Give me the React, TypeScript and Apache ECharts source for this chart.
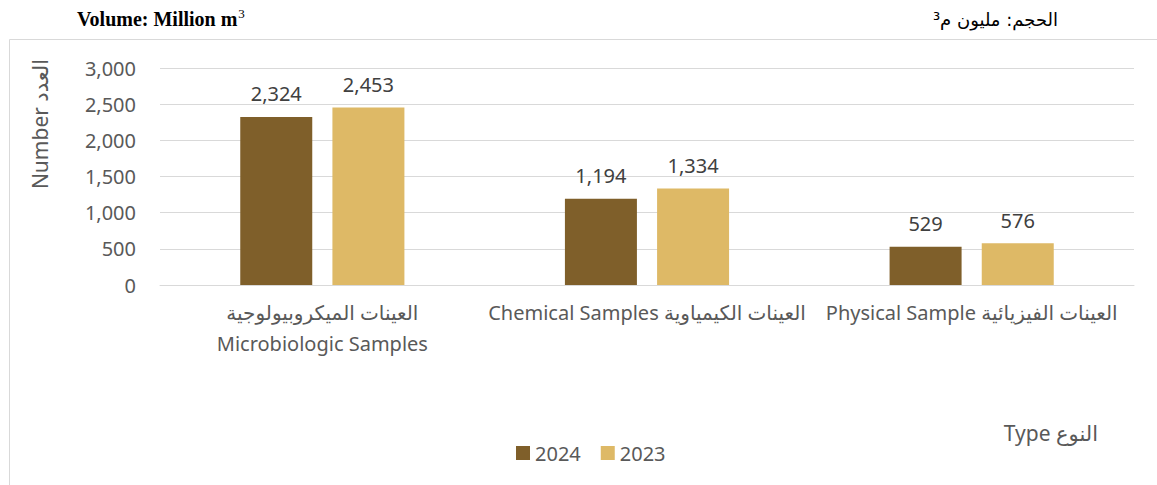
import React, { useEffect, useRef } from "react";
import * as echarts from "echarts";

const categories = [
  "العينات الميكروبيولوجية\nMicrobiologic Samples",
  "Chemical Samples العينات الكيمياوية",
  "Physical Sample العينات الفيزيائية",
];
const seriesNames = ["2024", "2023"];
const values2024 = [2324, 1194, 529];
const values2023 = [2453, 1334, 576];
const colors = ["#7F5F2A", "#DEB966"];
const yTicks = { min: 0, max: 3000, interval: 500 };

const FONT = "'Noto Sans', 'DejaVu Sans', sans-serif";

export default function App() {
  const ref = useRef<HTMLDivElement>(null);
  useEffect(() => {
    document.body.style.margin = "0";
    const chart = echarts.init(ref.current!, null, { renderer: "svg" });
    const fmt = (v: number) => Number(v).toLocaleString("en-US");
    const barLabel = {
      show: true,
      position: "top",
      distance: 13,
      color: "#404040",
      fontSize: 20,
      formatter: (p: any) => fmt(p.value),
      fontFamily: FONT,
    };
    chart.setOption({
      animation: false,
      backgroundColor: "#ffffff",
      textStyle: { fontFamily: FONT },
      grid: { left: 160, right: 23, top: 68, bottom: 200, containLabel: false },
      legend: {
        data: seriesNames,
        left: 511,
        top: 438,
        itemWidth: 14,
        itemHeight: 14,
        itemGap: 20,
        icon: "rect",
        textStyle: { fontSize: 20, color: "#595959", fontFamily: FONT },
      },
      xAxis: {
        type: "category",
        data: categories,
        axisLine: { show: true, lineStyle: { color: "#d9d9d9" } },
        axisTick: { show: false },
        axisLabel: {
          color: "#595959",
          fontSize: 20,
          lineHeight: 31,
          margin: 12,
          interval: 0,
          fontFamily: FONT,
        },
      },
      yAxis: {
        type: "value",
        min: yTicks.min,
        max: yTicks.max,
        interval: yTicks.interval,
        axisLine: { show: false },
        axisTick: { show: false },
        splitLine: { lineStyle: { color: "#d9d9d9", width: 1 } },
        axisLabel: {
          color: "#595959",
          fontSize: 20,
          margin: 24,
          formatter: (v: number) => fmt(v),
          fontFamily: FONT,
        },
      },
      series: [
        {
          name: seriesNames[0],
          type: "bar",
          data: values2024,
          barWidth: 72,
          barGap: "28%",
          barCategoryGap: "50%",
          itemStyle: { color: colors[0] },
          label: barLabel,
        },
        {
          name: seriesNames[1],
          type: "bar",
          data: values2023,
          barWidth: 72,
          barGap: "28%",
          barCategoryGap: "50%",
          itemStyle: { color: colors[1] },
          label: barLabel,
        },
      ],
      graphic: [
        {
          type: "rect",
          shape: { x: 9.5, y: 39.5, width: 1300, height: 600 },
          style: { fill: "none", stroke: "#d9d9d9", lineWidth: 1 },
          silent: true,
          z: -10,
        },
        {
          type: "text",
          x: 77,
          y: 19,
          style: {
            text: "{a|Volume: Million m}{s|3}",
            verticalAlign: "middle",
            rich: {
              a: {
                font: "bold 20px 'Liberation Serif', 'Times New Roman', serif",
                color: "#000",
              },
              s: {
                font: "13px 'Liberation Serif', 'Times New Roman', serif",
                color: "#000",
                verticalAlign: "top",
                padding: [0, 0, 12, 1],
              },
            },
          },
        },
        {
          type: "text",
          x: 1058,
          y: 19,
          style: {
            text: "الحجم: مليون م³",
            font: "18px 'DejaVu Sans', sans-serif",
            fill: "#000",
            align: "right",
            verticalAlign: "middle",
          },
        },
        {
          type: "text",
          x: 40,
          y: 124,
          rotation: Math.PI / 2,
          style: {
            text: "Number العدد",
            font: "21px 'Noto Sans', 'DejaVu Sans', sans-serif",
            fill: "#595959",
            align: "center",
            verticalAlign: "middle",
          },
        },
        {
          type: "text",
          x: 1098,
          y: 433,
          style: {
            text: "Type النوع",
            font: "21px 'Noto Sans', 'DejaVu Sans', sans-serif",
            fill: "#595959",
            align: "right",
            verticalAlign: "middle",
          },
        },
      ],
    });
    return () => chart.dispose();
  }, []);
  return <div ref={ref} style={{ width: 1157, height: 485 }} />;
}
